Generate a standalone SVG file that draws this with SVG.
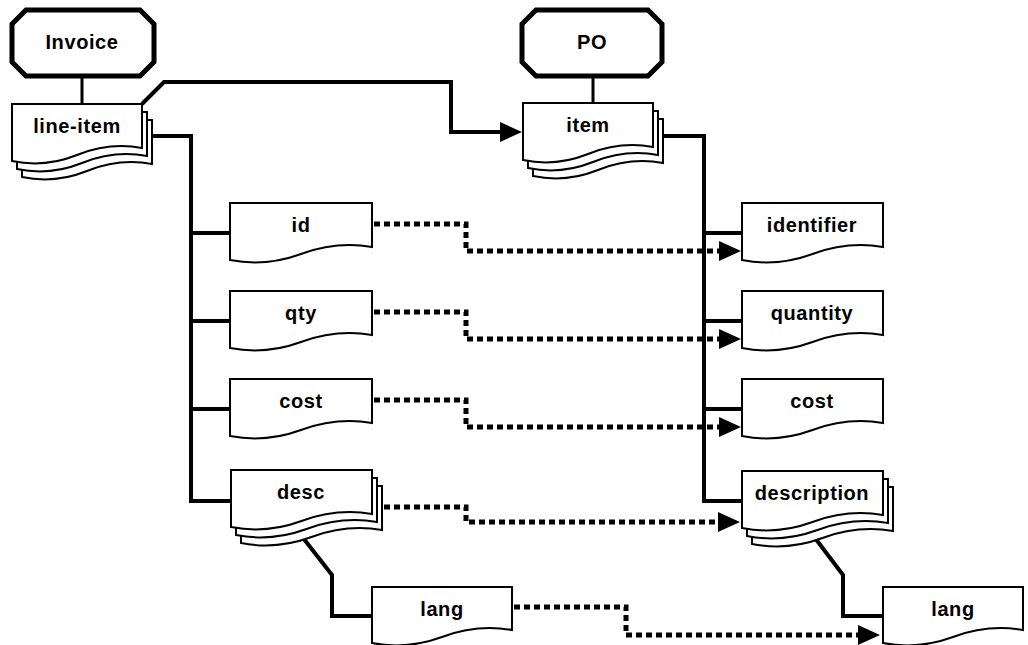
<svg xmlns="http://www.w3.org/2000/svg" width="1028" height="645" viewBox="0 0 1028 645">
<style>
.doc{fill:#fff;stroke:#000;stroke-width:2}
.oct{fill:#fff;stroke:#000;stroke-width:5}
.t{font-family:"Liberation Sans",Arial,sans-serif;font-weight:bold;font-size:20px;letter-spacing:0.6px;text-anchor:middle;fill:#000}
.c{fill:none;stroke:#000;stroke-width:4}
.d{fill:none;stroke:#000;stroke-width:5;stroke-dasharray:6 4}
</style>
<defs>
<marker id="ah" markerUnits="userSpaceOnUse" markerWidth="24" markerHeight="22" refX="0" refY="10" orient="auto" overflow="visible">
<path d="M0,0 L22,10 L0,20 Z" fill="#000"/>
</marker>
</defs>
<rect width="1028" height="645" fill="#fff"/>
<g id="connectors">
<path class="c" style="stroke-width:3" d="M82,76 V104"/>
<path class="c" style="stroke-width:3" d="M593,76 V103"/>
<path class="c" d="M142,104 L164,82 H451 V132 H500" marker-end="url(#ah)"/>
<path class="c" d="M152,136 H191 V501 H231 M191,233 H230 M191,321 H230 M191,409 H230"/>
<path class="c" d="M663,136 H704 V501 H742 M704,233 H742 M704,321 H742 M704,409 H742"/>
<path class="c" d="M300,534 L332,575 V616 H372"/>
<path class="c" d="M812,534 L843,575 V616 H883"/>
<path class="d" d="M374,224 H466 V251 H719" marker-end="url(#ah)"/>
<path class="d" d="M374,312 H466 V339 H719" marker-end="url(#ah)"/>
<path class="d" d="M374,400 H466 V427 H719" marker-end="url(#ah)"/>
<path class="d" d="M384,507 H466 V522 H718" marker-end="url(#ah)"/>
<path class="d" d="M514,607 H626 V635 H858" marker-end="url(#ah)"/>
</g>
<g id="invoice">
<path class="oct" d="M26,10 H140 L154,24 V62 L140,76 H26 L12,62 V24 Z"/>
<text class="t" x="82" y="49">Invoice</text>
</g>
<g id="po">
<path class="oct" d="M536,10 H648 L662,24 V62 L648,76 H536 L522,62 V24 Z"/>
<text class="t" x="592" y="49">PO</text>
</g>
<g id="line-item">
<path class="doc" d="M22,120 H152 V164 Q119.5,158 87,171 Q54.5,184 22,177 Z"/>
<path class="doc" d="M17,112 H147 V156 Q114.5,150 82,163 Q49.5,176 17,169 Z"/>
<path class="doc" d="M12,104 H142 V148 Q109.5,142 77,155 Q44.5,168 12,161 Z"/>
<text class="t" x="77" y="133">line-item</text>
</g>
<g id="item">
<path class="doc" d="M533,119 H663 V163 Q630.5,157 598,170 Q565.5,183 533,176 Z"/>
<path class="doc" d="M528,111 H658 V155 Q625.5,149 593,162 Q560.5,175 528,168 Z"/>
<path class="doc" d="M523,103 H653 V147 Q620.5,141 588,154 Q555.5,167 523,160 Z"/>
<text class="t" x="588" y="132">item</text>
</g>
<g id="id">
<path class="doc" d="M230,203 H372 V247 Q336.5,241 301,254 Q265.5,267 230,260 Z"/>
<text class="t" x="301" y="232">id</text>
</g>
<g id="qty">
<path class="doc" d="M230,291 H372 V335 Q336.5,329 301,342 Q265.5,355 230,348 Z"/>
<text class="t" x="301" y="320">qty</text>
</g>
<g id="cost-left">
<path class="doc" d="M230,379 H372 V423 Q336.5,417 301,430 Q265.5,443 230,436 Z"/>
<text class="t" x="301" y="408">cost</text>
</g>
<g id="desc">
<path class="doc" d="M241,486 H382 V530 Q346.75,524 311.5,537 Q276.25,550 241,543 Z"/>
<path class="doc" d="M236,478 H377 V522 Q341.75,516 306.5,529 Q271.25,542 236,535 Z"/>
<path class="doc" d="M231,470 H372 V514 Q336.75,508 301.5,521 Q266.25,534 231,527 Z"/>
<text class="t" x="301" y="499">desc</text>
</g>
<g id="lang-left">
<path class="doc" d="M372,587 H512 V630 Q477,624 442,637 Q407,650 372,643 Z"/>
<text class="t" x="442" y="616">lang</text>
</g>
<g id="identifier">
<path class="doc" d="M742,203 H883 V247 Q847.75,241 812.5,254 Q777.25,267 742,260 Z"/>
<text class="t" x="812" y="232">identifier</text>
</g>
<g id="quantity">
<path class="doc" d="M742,291 H883 V335 Q847.75,329 812.5,342 Q777.25,355 742,348 Z"/>
<text class="t" x="812" y="320">quantity</text>
</g>
<g id="cost-right">
<path class="doc" d="M742,379 H883 V423 Q847.75,417 812.5,430 Q777.25,443 742,436 Z"/>
<text class="t" x="812" y="408">cost</text>
</g>
<g id="description">
<path class="doc" d="M752,487 H893 V531 Q857.75,525 822.5,538 Q787.25,551 752,544 Z"/>
<path class="doc" d="M747,479 H888 V523 Q852.75,517 817.5,530 Q782.25,543 747,536 Z"/>
<path class="doc" d="M742,471 H883 V515 Q847.75,509 812.5,522 Q777.25,535 742,528 Z"/>
<text class="t" x="812" y="500">description</text>
</g>
<g id="lang-right">
<path class="doc" d="M883,587 H1023 V630 Q988,624 953,637 Q918,650 883,643 Z"/>
<text class="t" x="953" y="616">lang</text>
</g>
</svg>
